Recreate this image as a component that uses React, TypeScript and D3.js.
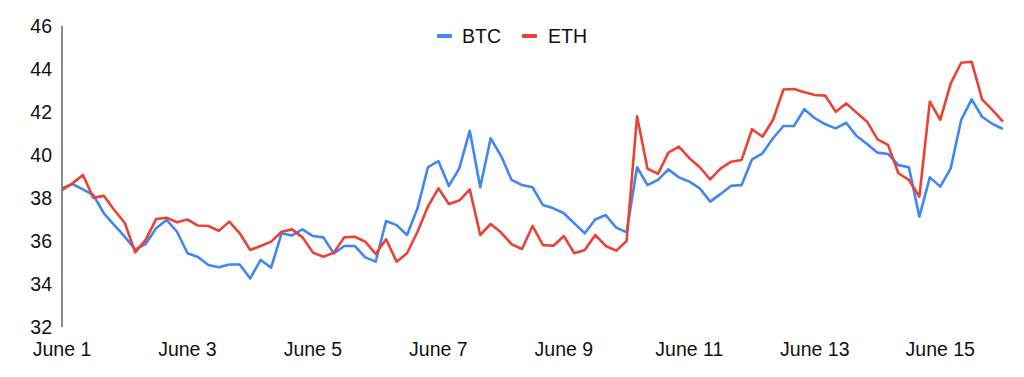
import React from "react";
import * as d3 from "d3";

const seriesNames = ["BTC", "ETH"];
const seriesColors = ["#4285F4", "#EA4335"];
const pointsPerDay = 6;

const btc = [
  38.45, 38.65, 38.4, 38.14, 37.29, 36.74, 36.2, 35.61, 35.86, 36.59, 36.98, 36.43, 35.43, 35.26, 34.88, 34.78,
  34.91, 34.91, 34.26, 35.12, 34.76, 36.36, 36.26, 36.54, 36.23, 36.17, 35.42, 35.77, 35.77, 35.24, 35.04, 36.93,
  36.74, 36.28, 37.52, 39.43, 39.72, 38.56, 39.38, 41.13, 38.5, 40.78, 39.95, 38.84, 38.6, 38.5, 37.67, 37.52,
  37.29, 36.82, 36.36, 37.0, 37.21, 36.62, 36.4, 39.43, 38.6, 38.84, 39.33, 38.96, 38.76, 38.45, 37.83, 38.19,
  38.57, 38.6, 39.8, 40.08, 40.78, 41.35, 41.35, 42.13, 41.71, 41.43, 41.24, 41.5, 40.88, 40.51, 40.11, 40.05,
  39.53, 39.43, 37.13, 38.96, 38.53, 39.38, 41.63, 42.59, 41.78, 41.44, 41.21,
];

const eth = [
  38.37, 38.68, 39.07, 38.01, 38.1, 37.44, 36.85, 35.47, 36.05, 37.02, 37.08, 36.87, 37.0, 36.72, 36.7, 36.47,
  36.9, 36.36, 35.58, 35.77, 35.97, 36.43, 36.54, 36.17, 35.46, 35.27, 35.46, 36.17, 36.2, 35.97, 35.4, 36.08,
  35.04, 35.43, 36.43, 37.6, 38.45, 37.72, 37.88, 38.4, 36.28, 36.79, 36.39, 35.85, 35.63, 36.7, 35.81, 35.78,
  36.23, 35.43, 35.58, 36.28, 35.77, 35.55, 36.0, 41.8, 39.36, 39.12, 40.11, 40.39, 39.85, 39.43, 38.87, 39.38,
  39.69, 39.77, 41.2, 40.85, 41.63, 43.05, 43.07, 42.92, 42.79, 42.76, 42.01, 42.4, 41.97, 41.55, 40.73, 40.47,
  39.15, 38.84, 38.06, 42.48, 41.63, 43.33, 44.29, 44.34, 42.59, 42.09, 41.55,
];

const xTickDays = [1, 3, 5, 7, 9, 11, 13, 15];
const xTickLabels = ["June 1", "June 3", "June 5", "June 7", "June 9", "June 11", "June 13", "June 15"];
const yTicks = [32, 34, 36, 38, 40, 42, 44, 46];

const W = 1024;
const H = 377;
const FONT = "'Liberation Sans', Arial, Helvetica, sans-serif";
const FS = 19.5;

export default function App() {
  const n = btc.length;
  const x = d3.scaleLinear().domain([1, 1 + (n - 1) / pointsPerDay]).range([62, 1003]);
  const y = d3.scaleLinear().domain([32, 46]).range([327, 26]);

  const line = d3
    .line<number>()
    .x((_, i) => x(1 + i / pointsPerDay))
    .y((d) => y(d));

  const allSeries = [btc, eth];

  return (
    <svg
      width={W}
      height={H}
      style={{ position: "absolute", left: 0, top: 0, background: "#fff" }}
      fontFamily={FONT}
    >
      <rect width={W} height={H} fill="#fff" />
      {yTicks.map((t) => (
        <text key={t} x={52} y={y(t)} textAnchor="end" dominantBaseline="central" fontSize={FS} fill="#111">
          {t}
        </text>
      ))}
      {xTickDays.map((d, i) => (
        <text key={d} x={x(d)} y={349} textAnchor="middle" dominantBaseline="central" fontSize={FS} fill="#111">
          {xTickLabels[i]}
        </text>
      ))}
      <line x1={62} x2={62} y1={y(46)} y2={y(32)} stroke="#666" strokeWidth={1.5} />
      {allSeries.map((s, k) => (
        <path
          key={k}
          d={line(s) || ""}
          fill="none"
          stroke={seriesColors[k]}
          strokeWidth={2.6}
          strokeLinejoin="round"
        />
      ))}
      <g>
        <rect x={437} y={34} width={15} height={4} fill={seriesColors[0]} rx={1} />
        <text x={462} y={36} dominantBaseline="central" fontSize={FS} fill="#111">
          {seriesNames[0]}
        </text>
        <rect x={522} y={34} width={15} height={4} fill={seriesColors[1]} rx={1} />
        <text x={548} y={36} dominantBaseline="central" fontSize={FS} fill="#111">
          {seriesNames[1]}
        </text>
      </g>
    </svg>
  );
}
